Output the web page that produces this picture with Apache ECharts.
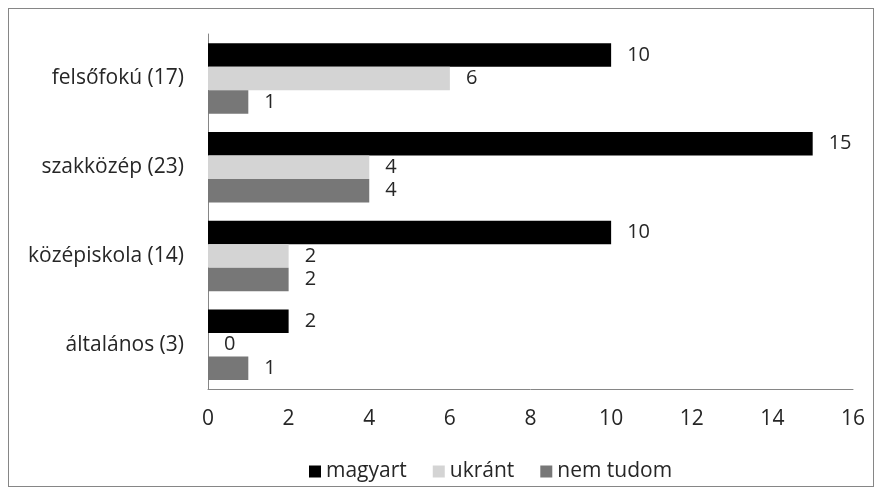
<!DOCTYPE html>
<html>
<head>
<meta charset="utf-8">
<script src="https://cdn.jsdelivr.net/npm/echarts@6/dist/echarts.min.js"></script>
<style>
  html, body { margin: 0; padding: 0; background: #fff; }
  #frame { position: absolute; left: 8px; top: 8px; width: 866px; height: 479px; border: 1px solid #868686; box-sizing: border-box; }
  #chart { position: absolute; left: 0; top: 0; width: 883px; height: 497px; }
</style>
</head>
<body>
<div id="frame"></div>
<div id="chart"></div>
<script>
// Education level categories (respondent count in brackets)
const categories = ['felsőfokú (17)', 'szakközép (23)', 'középiskola (14)', 'általános (3)'];
const seriesNames = ['magyart', 'ukránt', 'nem tudom'];
const magyart = [10, 15, 10, 2];
const ukrant = [6, 4, 2, 0];
const nemTudom = [1, 4, 2, 1];
const xTicks = { min: 0, max: 16, interval: 2 };

const colors = ['#000000', '#d4d4d4', '#777777'];
const font = '"Open Sans", "Liberation Sans", sans-serif';
const fontSize = 21;
const textColor = '#262626';

const chart = echarts.init(document.getElementById('chart'), null, { renderer: 'canvas' });

function barSeries(name, data, color) {
  return {
    name: name,
    type: 'bar',
    data: data,
    barWidth: 23.5,
    barGap: '0%',
    itemStyle: { color: color },
    label: {
      show: true,
      position: 'right',
      distance: 16,
      color: textColor,
      fontSize: 20,
      fontFamily: font
    }
  };
}

chart.setOption({
  animation: false,
  backgroundColor: 'transparent',
  grid: { left: 208, right: 30, top: 34, bottom: 108, containLabel: false },
  legend: {
    top: 456,
    left: 304,
    itemWidth: 12,
    itemHeight: 12,
    itemGap: 26,
    icon: 'rect',
    textStyle: { fontSize: fontSize, fontFamily: font, color: textColor },
    data: seriesNames
  },
  xAxis: {
    type: 'value',
    min: xTicks.min,
    max: xTicks.max,
    interval: xTicks.interval,
    axisLine: { show: true, lineStyle: { color: '#868686', width: 1 } },
    axisTick: { show: false },
    splitLine: { show: false },
    axisLabel: { fontSize: fontSize, fontFamily: font, color: textColor, margin: 20 }
  },
  yAxis: {
    type: 'category',
    data: categories,
    inverse: true,
    axisLine: { show: true, lineStyle: { color: '#868686', width: 1 } },
    axisTick: { show: false },
    axisLabel: { fontSize: fontSize, fontFamily: font, color: textColor, margin: 24 }
  },
  series: [
    barSeries(seriesNames[0], magyart, colors[0]),
    barSeries(seriesNames[1], ukrant, colors[1]),
    barSeries(seriesNames[2], nemTudom, colors[2])
  ]
});
</script>
</body>
</html>
